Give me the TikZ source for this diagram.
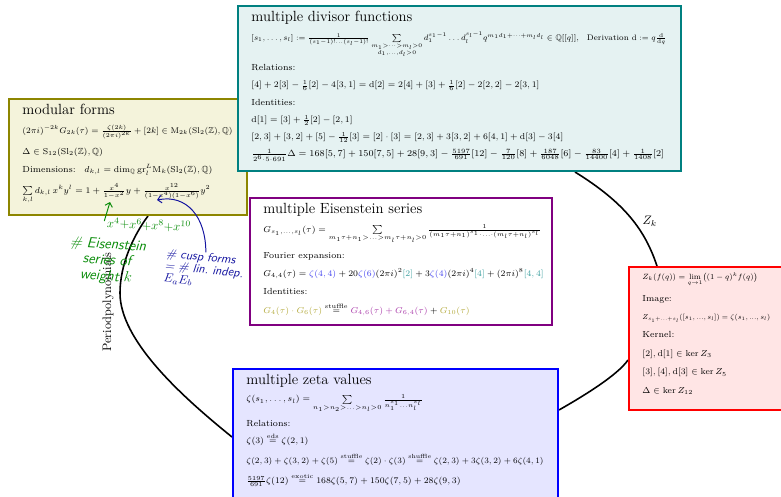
\documentclass[tikz,border=0pt]{standalone}
\usepackage{amsmath, amssymb}
\usepackage{graphicx}
\usepackage{tikz}
\usetikzlibrary{positioning, backgrounds, calc, arrows.meta}

\definecolor{zetablue}{RGB}{70,70,240}
\definecolor{qteal}{RGB}{60,160,160}
\definecolor{gold}{RGB}{180,170,60}
\definecolor{mauve}{RGB}{170,60,170}
\definecolor{penGreen}{RGB}{10,140,10}
\definecolor{penBlue}{RGB}{20,20,160}

\newcommand{\boxtitle}[1]{{\fontsize{12}{14}\selectfont #1\par}}
% box content: [gap between lines]{width}{height}{lines}
\newcommand{\boxbody}[4][5pt]{\parbox[c][#3][t]{#2}{\raggedright\setlength{\parskip}{#1}#4}}
% a formula line squeezed to a given width
\newcommand{\fitline}[2]{\resizebox{#1}{!}{#2}\par}

\tikzset{
  panel/.style={draw=#1, fill=#1!10, line width=1.6pt, anchor=north west,
    inner xsep=11pt, inner ysep=4.5pt, font=\fontsize{7.2}{9}\selectfont},
  cycleline/.style={line width=1.3pt},
  scribble/.style={font=\sffamily\itshape, inner sep=0pt}
}

\begin{document}
\begin{tikzpicture}[x=0.8144pt, y=-0.8144pt]
\useasboundingbox (0,0) rectangle (781,497);

% the five boxes
\node[panel=olive] (modular) at (8,98) {\boxbody[6pt]{171.8pt}{85.5pt}{%
  \boxtitle{modular forms}
  \fitline{171pt}{$(2\pi i)^{-2k}G_{2k}(\tau) = \frac{\zeta(2k)}{(2\pi i)^{2k}} + [2k] \in \mathrm{M}_{2k}(\mathrm{Sl}_2(\mathbb{Z}),\mathbb{Q})$}
  $\Delta\in\mathrm{S}_{12}(\mathrm{Sl}_2(\mathbb{Z}),\mathbb{Q})$\par
  \mbox{Dimensions:\quad $d_{k,l} = \dim_{\mathbb{Q}}\mathrm{gr}^L_l\mathrm{M}_k(\mathrm{Sl}_2(\mathbb{Z}),\mathbb{Q})$}\par
  \mbox{$\sum\limits_{k,l} d_{k,l}\,x^ky^l = 1+\frac{x^4}{1-x^2}y+\frac{x^{12}}{(1-x^4)(1-x^6)}y^2$}}};

\node[panel=teal] (divisor) at (237,5) {\boxbody{338.8pt}{125.4pt}{%
  \boxtitle{multiple divisor functions}
  \fitline{338pt}{$[s_1,\ldots,s_l] := \frac{1}{(s_1-1)!\ldots(s_l-1)!}\sum\limits_{\substack{m_1>\cdots>m_l>0\\ d_1,\ldots,d_l>0}} d_1^{s_1-1}\ldots d_l^{s_l-1}q^{m_1d_1+\cdots+m_ld_l}\in\mathbb{Q}[[q]]$,\quad Derivation $\mathrm{d}:=q\frac{\mathrm{d}}{\mathrm{d}q}$}
  Relations:\par
  $[4]+2[3]-\frac16[2]-4[3,1] = \mathrm{d}[2] = 2[4]+[3]+\frac16[2]-2[2,2]-2[3,1]$\par
  Identities:\par
  $\mathrm{d}[1] = [3]+\frac12[2]-[2,1]$\par
  $[2,3]+[3,2]+[5]-\frac1{12}[3] = [2]\cdot[3] = [2,3]+3[3,2]+6[4,1]+\mathrm{d}[3]-3[4]$\par
  \fitline{336pt}{$\frac{1}{2^6\cdot5\cdot691}\Delta = 168[5,7]+150[7,5]+28[9,3]-\frac{5197}{691}[12]-\frac{7}{120}[8]+\frac{187}{6048}[6]-\frac{83}{14400}[4]+\frac{1}{1408}[2]$}}};

\node[panel=violet, fill=white] (eisenstein) at (249,197) {\boxbody[6pt]{224pt}{94.4pt}{%
  \boxtitle{multiple Eisenstein series}
  \mbox{$G_{s_1,\ldots,s_l}(\tau) = \sum\limits_{m_1\tau+n_1>\ldots>m_l\tau+n_l>0}\frac{1}{(m_1\tau+n_1)^{s_1}\cdot\ldots\cdot(m_l\tau+n_l)^{s_l}}$}\par
  Fourier expansion:\par
  \mbox{$G_{4,4}(\tau) = \textcolor{zetablue}{\zeta(4,4)} + 20\textcolor{zetablue}{\zeta(6)}(2\pi i)^2\textcolor{qteal}{[2]} + 3\textcolor{zetablue}{\zeta(4)}(2\pi i)^4\textcolor{qteal}{[4]} + (2\pi i)^8\textcolor{qteal}{[4,4]}$}\par
  Identities:\par
  \mbox{$\textcolor{gold}{G_4(\tau)\cdot G_6(\tau)} \overset{\text{stuffle}}{=} \textcolor{mauve}{G_{4,6}(\tau)+G_{6,4}(\tau)} + \textcolor{gold}{G_{10}(\tau)}$}}};

\node[panel=red] (zmap) at (628,266) {\boxbody[6pt]{102.6pt}{107.5pt}{%
  \fitline{94pt}{$Z_k(f(q)) = \lim\limits_{q\to1}\bigl((1-q)^kf(q)\bigr)$}
  Image:\par
  \fitline{104pt}{$Z_{s_1+...+s_l}([s_1,...,s_l]) = \zeta(s_1,...,s_l)$}
  Kernel:\par
  $[2],\mathrm{d}[1]\in\ker Z_3$\par
  $[3],[4],\mathrm{d}[3]\in\ker Z_5$\par
  $\Delta\in\ker Z_{12}$}};

\node[panel=blue] (zeta) at (232,368) {\boxbody{242.7pt}{113pt}{%
  \boxtitle{multiple zeta values}
  \mbox{$\zeta(s_1,\ldots,s_l) = \sum\limits_{n_1>n_2>\ldots>n_l>0}\frac{1}{n_1^{s_1}\ldots n_l^{s_l}}$}\par
  Relations:\par
  $\zeta(3)\overset{\text{eds}}{=}\zeta(2,1)$\par
  \fitline{242pt}{$\zeta(2,3)+\zeta(3,2)+\zeta(5)\overset{\text{stuffle}}{=}\zeta(2)\cdot\zeta(3)\overset{\text{shuffle}}{=}\zeta(2,3)+3\zeta(3,2)+6\zeta(4,1)$}
  \mbox{$\frac{5197}{691}\zeta(12)\overset{\text{exotic}}{=}168\zeta(5,7)+150\zeta(7,5)+28\zeta(9,3)$}}};

% the maps between them, behind the boxes
\begin{scope}[on background layer]
  \draw[cycleline] ($(divisor.south west)+(338,0)$) .. controls +(50,31) and +(-12,-36) .. ($(zmap.north west)+(29,0)$)
    node[pos=0.55, right=3pt] {$Z_k$};
  \draw[cycleline] ($(zmap.north west)+(0,94)$) .. controls +(-11,16) and +(21,-12) .. ($(zeta.north east)+(0,42)$);
  \coordinate (leftmost) at (120,293);
  \draw[cycleline] ($(zeta.north west)+(0,69)$) .. controls +(-52,-42) and +(0,47) .. (leftmost)
    .. controls +(0,-28) and +(-15,20) .. ($(modular.south west)+(140,0)$);
\end{scope}
\node[rotate=90] (periodlabel) at (108,302) {Periodpolynomials};

% notes written on top
\node[scribble, penGreen, rotate=-3] (xsum) at (149,225) {$x^4{+}x^6{+}x^8{+}x^{10}$};
\node[scribble, penGreen, align=center, rotate=-4, font=\sffamily\itshape\large] (eisnote) at (107,261) {\# Eisenstein\\[-1pt] series of\\[-1pt] weight $k$};
\node[scribble, penBlue, align=left, rotate=-6] (cuspnote) at (204,270) {\# cusp forms\\[-2pt] = \# lin.\ indep.\\[-2pt] $E_aE_b$};
\coordinate (yterm) at (110,202);
\coordinate (yyterm) at (157,200);
\draw[penGreen, thick, -{Straight Barb}] (xsum.north west) ++(-3,4) -- (yterm);
\draw[penBlue, thick, -{Straight Barb}] (cuspnote.north) .. controls +(0,-35) and +(30,-6) .. (yyterm);
\end{tikzpicture}
\end{document}
